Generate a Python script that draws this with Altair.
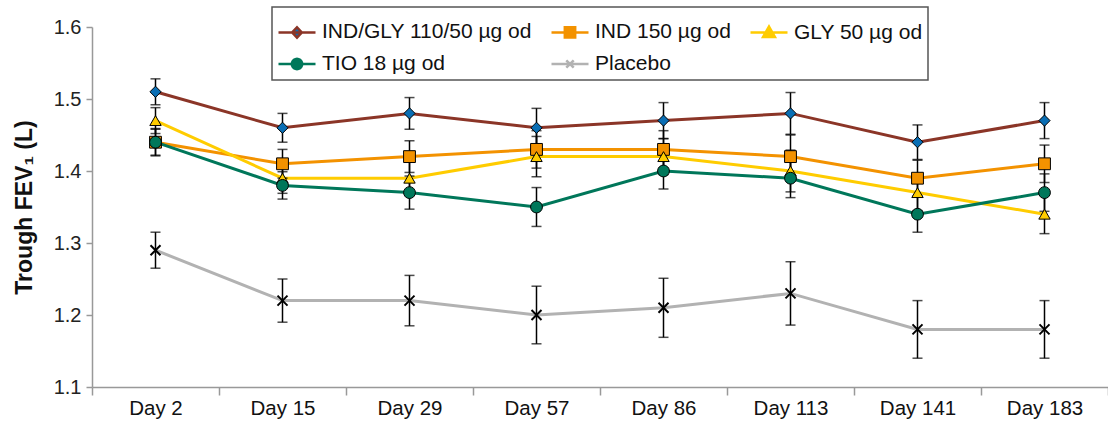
import math
import altair as alt
import pandas as pd

days = ["Day 2", "Day 15", "Day 29", "Day 57", "Day 86", "Day 113", "Day 141", "Day 183"]
series_names = ["IND/GLY 110/50 µg od", "IND 150 µg od", "GLY 50 µg od", "TIO 18 µg od", "Placebo"]

indgly_mean = [1.51, 1.46, 1.48, 1.46, 1.47, 1.48, 1.44, 1.47]
indgly_err = [0.018, 0.020, 0.022, 0.027, 0.025, 0.029, 0.024, 0.025]
ind_mean = [1.44, 1.41, 1.42, 1.43, 1.43, 1.42, 1.39, 1.41]
ind_err = [0.019, 0.020, 0.022, 0.026, 0.026, 0.030, 0.025, 0.026]
gly_mean = [1.47, 1.39, 1.39, 1.42, 1.42, 1.40, 1.37, 1.34]
gly_err = [0.018, 0.021, 0.024, 0.028, 0.025, 0.029, 0.025, 0.027]
tio_mean = [1.44, 1.38, 1.37, 1.35, 1.40, 1.39, 1.34, 1.37]
tio_err = [0.018, 0.019, 0.023, 0.027, 0.025, 0.027, 0.025, 0.026]
pbo_mean = [1.29, 1.22, 1.22, 1.20, 1.21, 1.23, 1.18, 1.18]
pbo_err = [0.025, 0.030, 0.035, 0.040, 0.041, 0.044, 0.040, 0.040]

y_ticks = [1.1, 1.2, 1.3, 1.4, 1.5, 1.6]

line_colors = ["#8B3527", "#F39200", "#FFCC00", "#00775A", "#B2B2B2"]
marker_fills = ["#0A6EB4", "#F39200", "#FFCC00", "#00775A", "#000000"]
marker_shapes = ["diamond", "square", "triangle-up", "circle", "M-1,-1L1,1M-1,1L1,-1"]
marker_sizes = [125, 140, 130, 140, 100]

# legend symbols: a short line with the marker on it
_r = 0.28
_circle = "M" + "L".join(
    f"{_r * math.cos(2 * math.pi * k / 20):.3f},{_r * math.sin(2 * math.pi * k / 20):.3f}" for k in range(20)
) + "Z"
legend_paths = [
    "M-1,0L1,0M-0.26,0L0,-0.28L0.26,0L0,0.28Z",
    "M-1,0L1,0M-0.28,-0.28L0.28,-0.28L0.28,0.28L-0.28,0.28Z",
    "M-1,0L1,0M0,-0.32L0.32,0.24L-0.32,0.24Z",
    "M-1,0L1,0" + _circle,
    "M-1,0L1,0M-0.2,-0.2L0.2,0.2M-0.2,0.2L0.2,-0.2",
]

means = [indgly_mean, ind_mean, gly_mean, tio_mean, pbo_mean]
errs = [indgly_err, ind_err, gly_err, tio_err, pbo_err]

rows = []
for s, m_list, e_list in zip(series_names, means, errs):
    for d, m, e in zip(days, m_list, e_list):
        rows.append({"series": s, "day": d, "value": m, "lo": m - e, "hi": m + e})
df = pd.DataFrame(rows)

FONT = "Liberation Sans"

x_enc = alt.X(
    "day:N",
    sort=days,
    scale=alt.Scale(type="band", paddingInner=0, paddingOuter=0),
    axis=alt.Axis(
        title=None,
        labelAngle=0,
        tickBand="extent",
        domainColor="#999999",
        tickColor="#999999",
        domainWidth=1.5,
        tickWidth=1.5,
        tickSize=8,
        labelFontSize=20.5,
        labelColor="#111111",
        labelPadding=3,
    ),
)
y_scale = alt.Scale(domain=[1.1, 1.6], nice=False, zero=False)
y_axis = alt.Axis(
    values=y_ticks,
    format=".1f",
    grid=False,
    domainColor="#999999",
    tickColor="#999999",
    domainWidth=1.5,
    tickWidth=1.5,
    tickSize=6,
    labelFontSize=20,
    labelColor="#222222",
    labelPadding=5,
    title="Trough FEV₁ (L)",
    titleFontSize=23,
    titleFontWeight="bold",
    titleColor="#111111",
    titlePadding=17,
)

base = alt.Chart(df)

lines = base.mark_line(strokeWidth=3).encode(
    x=x_enc,
    y=alt.Y("value:Q", scale=y_scale, axis=y_axis),
    color=alt.Color("series:N", scale=alt.Scale(domain=series_names, range=line_colors), legend=None),
)

rules = base.mark_rule(color="black", strokeWidth=1.5).encode(
    x=x_enc, y=alt.Y("lo:Q", scale=y_scale), y2="hi:Q"
)
caps_lo = base.mark_tick(color="black", size=10, thickness=1.5).encode(
    x=x_enc, y=alt.Y("lo:Q", scale=y_scale)
)
caps_hi = base.mark_tick(color="black", size=10, thickness=1.5).encode(
    x=x_enc, y=alt.Y("hi:Q", scale=y_scale)
)

point_layers = []
for s, shp, fc, sz in zip(series_names, marker_shapes, marker_fills, marker_sizes):
    src = base.transform_filter(alt.datum.series == s)
    if shp.startswith("M"):
        mk = src.mark_point(shape=shp, filled=False, stroke="black", strokeWidth=2, size=sz, opacity=1)
    else:
        mk = src.mark_point(shape=shp, filled=True, fill=fc, stroke="black", strokeWidth=1, size=sz, opacity=1)
    point_layers.append(mk.encode(x=x_enc, y=alt.Y("value:Q", scale=y_scale)))

leg = alt.Legend(
    title=None,
    orient="none",
    legendX=180,
    legendY=-20,
    columns=3,
    direction="horizontal",
    symbolSize=37 * 37,
    symbolStrokeWidth=2.5,
    labelFontSize=21,
    labelLimit=0,
    labelColor="#111111",
    labelOffset=5,
    columnPadding=14,
    rowPadding=1,
    padding=5,
    strokeColor="#555555",
    fillColor="white",
)

legend_layer = base.mark_point(filled=True, strokeWidth=2.5, opacity=0).encode(
    x=x_enc,
    y=alt.Y("value:Q", scale=y_scale),
    stroke=alt.Stroke("series:N", scale=alt.Scale(domain=series_names, range=line_colors), legend=leg),
    fill=alt.Fill("series:N", scale=alt.Scale(domain=series_names, range=marker_fills), legend=leg),
    shape=alt.Shape("series:N", scale=alt.Scale(domain=series_names, range=legend_paths), legend=leg),
)

chart = alt.layer(legend_layer, lines, rules, caps_lo, caps_hi, *point_layers).properties(
    width=1016,
    height=360,
    autosize=alt.AutoSizeParams(type="none"),
    padding={"left": 92, "top": 27, "right": 0, "bottom": 39},
).configure(font=FONT).configure_view(stroke=None).configure_legend(
    strokeWidth=1.5, symbolOpacity=1
)

chart.save("out.html", embed_options={"renderer": "svg", "actions": False})
